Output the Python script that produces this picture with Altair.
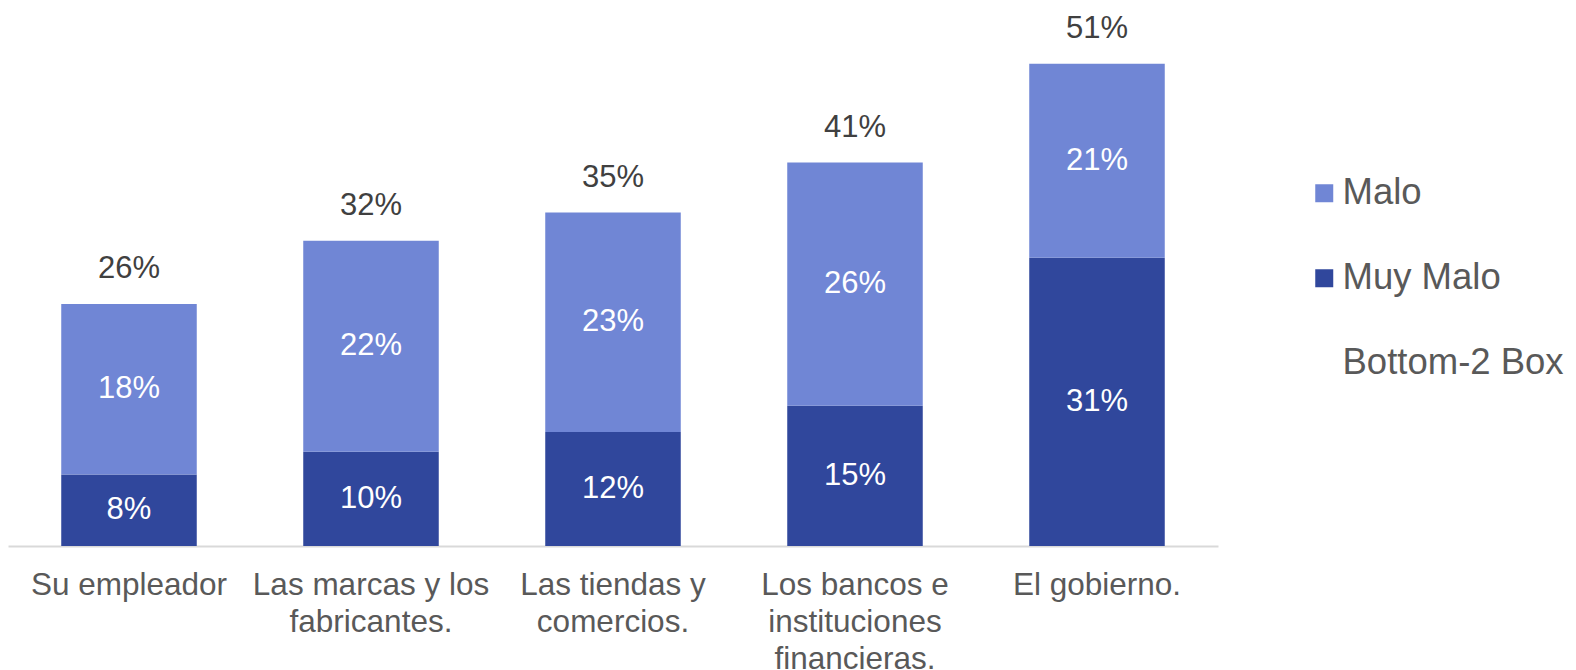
import altair as alt
import pandas as pd

categories = [
    "Su empleador",
    "Las marcas y los\nfabricantes.",
    "Las tiendas y\ncomercios.",
    "Los bancos e\ninstituciones\nfinancieras.",
    "El gobierno.",
]
series = ["Malo", "Muy Malo", "Bottom-2 Box"]
muy_malo = [7.6, 10.0, 12.1, 14.9, 30.6]
malo = [18.1, 22.4, 23.3, 25.8, 20.6]

colors = ["#7086D5", "#30479C", "transparent"]

rows = []
for i, c in enumerate(categories):
    rows.append({"category": c, "serie": "Muy Malo", "value": muy_malo[i], "ord": 0})
    rows.append({"category": c, "serie": "Malo", "value": malo[i], "ord": 1})
df = pd.DataFrame(rows)

FONT = "Liberation Sans"
xscale = alt.Scale(paddingInner=0.44, paddingOuter=0.22)
yscale = alt.Scale(domain=[0, 57.11], nice=False)

x_enc = alt.X(
    "category:N", sort=categories, scale=xscale,
    axis=alt.Axis(
        title=None, ticks=False, grid=False, labelAngle=0,
        labelExpr="split(datum.label, '\\n')",
        labelFontSize=31.5, labelColor="#595959", labelFont=FONT,
        labelLineHeight=37, labelPadding=23, labelLimit=400,
        domainColor="#d9d9d9", domainWidth=2,
    ),
)

bars = alt.Chart(df).mark_bar().encode(
    x=x_enc,
    y=alt.Y("value:Q", stack="zero", scale=yscale, axis=None),
    color=alt.Color(
        "serie:N",
        scale=alt.Scale(domain=series, range=colors),
        legend=alt.Legend(
            title=None, orient="none", legendX=1298, legendY=167,
            symbolType="square", symbolSize=324, symbolStrokeWidth=0,
            labelFontSize=36.5, labelColor="#595959", labelFont=FONT,
            labelOffset=0, rowPadding=48, labelLimit=400,
        ),
    ),
    order=alt.Order("ord:Q"),
)

seg_text = alt.Chart(df).transform_stack(
    stack="value", groupby=["category"], sort=[alt.SortField("ord")], as_=["y0", "y1"]
).transform_calculate(
    mid="(datum.y0 + datum.y1) / 2",
    lab="format(datum.value, '.0f') + '%'",
).mark_text(color="white", fontSize=31, font=FONT, baseline="middle").encode(
    x=alt.X("category:N", sort=categories, scale=xscale),
    y=alt.Y("mid:Q", scale=yscale),
    text="lab:N",
)

tot_text = alt.Chart(df).transform_aggregate(
    top="sum(value)", groupby=["category"]
).transform_calculate(
    lab="format(datum.top, '.0f') + '%'"
).mark_text(color="#404040", fontSize=31, font=FONT, baseline="middle", dy=-35).encode(
    x=alt.X("category:N", sort=categories, scale=xscale),
    y=alt.Y("top:Q", scale=yscale),
    text="lab:N",
)

chart = alt.layer(bars, seg_text, tot_text).properties(
    width=1210, height=538,
    autosize=alt.AutoSizeParams(type="none"),
    padding={"left": 0, "top": 0, "right": 350, "bottom": 124},
).configure_view(stroke=None)

chart.save("out.html", embed_options={"renderer": "svg", "actions": False})
